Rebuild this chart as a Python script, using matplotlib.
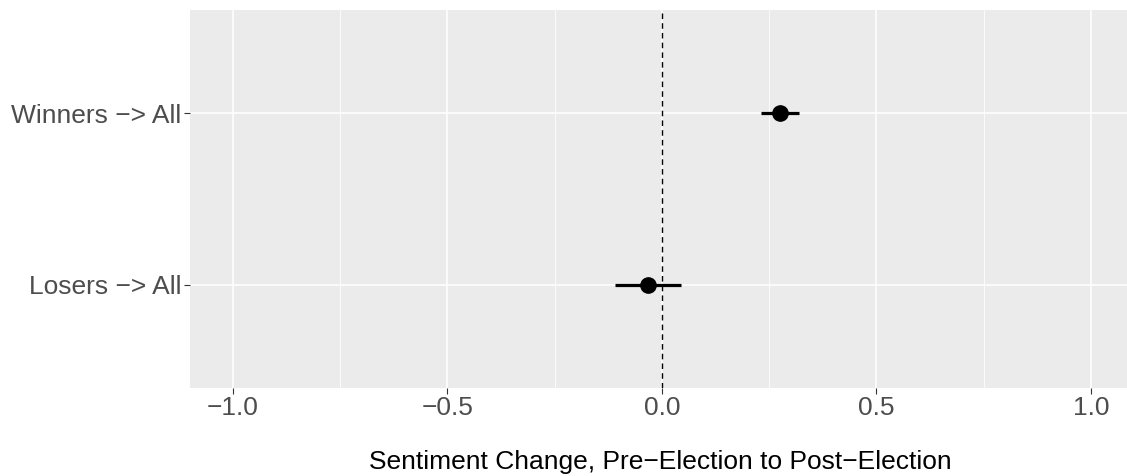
import matplotlib
matplotlib.use('Agg')
import matplotlib.pyplot as plt

plt.rcParams['font.family'] = ['Liberation Sans', 'DejaVu Sans']

groups = ['Losers \u2212> All', 'Winners \u2212> All']
estimate = [-0.033, 0.275]
ci_low = [-0.110, 0.231]
ci_high = [0.044, 0.319]

W, H = 1127, 476
fig = plt.figure(figsize=(W / 100, H / 100), dpi=100)
ax = fig.add_axes([190 / W, (H - 388) / H, (W - 190) / W, (388 - 10) / H])
ax.set_facecolor('#EBEBEB')
for s in ax.spines.values():
    s.set_visible(False)

ypos = list(range(1, len(groups) + 1))
ax.set_xlim(-1.1, 1.084)
ax.set_ylim(0.4, 2.6)
ax.set_xticks([-1.0, -0.5, 0.0, 0.5, 1.0])
ax.set_xticklabels(['\u22121.0', '\u22120.5', '0.0', '0.5', '1.0'])
ax.set_xticks([-0.75, -0.25, 0.25, 0.75], minor=True)
ax.set_yticks(ypos)
ax.set_yticklabels(groups)
ax.grid(True, which='major', color='white', linewidth=1.1)
ax.grid(True, which='minor', axis='x', color='white', linewidth=0.55)
ax.set_axisbelow(True)
ax.tick_params(axis='both', which='major', length=4, width=0.8, color='#333333',
               labelcolor='#4D4D4D', labelsize=19, pad=2)
ax.tick_params(axis='x', which='minor', length=0)

ax.axvline(0, color='black', linestyle=(0, (4, 3)), linewidth=1.0)
for y, e, lo, hi in zip(ypos, estimate, ci_low, ci_high):
    ax.plot([lo, hi], [y, y], color='black', linewidth=2.3, solid_capstyle='butt')
ax.plot(estimate, ypos, 'o', color='black', markersize=11)

fig.text(660 / W, 1 - 462 / H, 'Sentiment Change, Pre\u2212Election to Post\u2212Election',
         ha='center', va='center', fontsize=19, color='black')

fig.savefig('out.png', dpi=100)
